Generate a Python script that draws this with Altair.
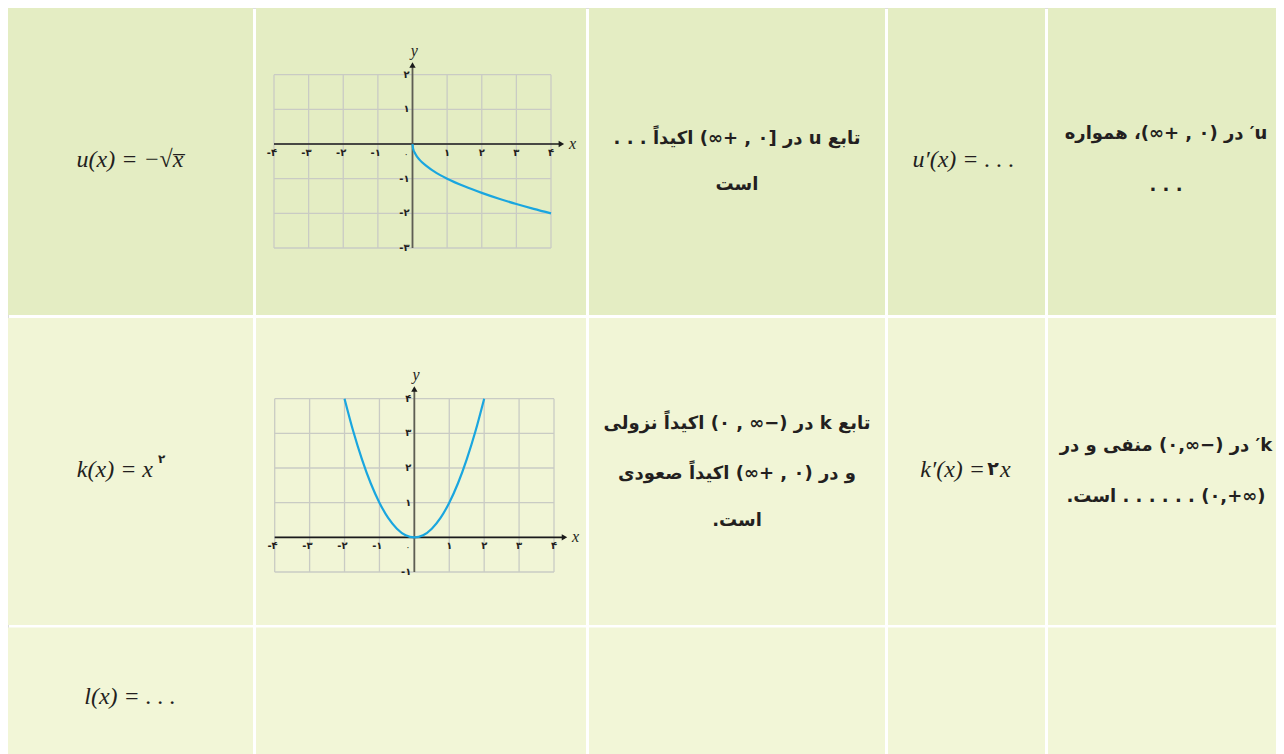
import altair as alt
import pandas as pd

# ---------------- data ----------------
# curve readings from the pictures
u_x = [0, 0.02, 0.08, 0.2, 0.4, 0.7, 1, 1.5, 2, 2.5, 3, 3.5, 4]
u_y = [0, -0.14, -0.28, -0.45, -0.63, -0.84, -1, -1.22, -1.41, -1.58, -1.73, -1.87, -2]
k_x = [-2, -1.75, -1.5, -1.25, -1, -0.75, -0.5, -0.25, 0, 0.25, 0.5, 0.75, 1, 1.25, 1.5, 1.75, 2]
k_y = [4, 3.06, 2.25, 1.56, 1, 0.56, 0.25, 0.06, 0, 0.06, 0.25, 0.56, 1, 1.56, 2.25, 3.06, 4]

fa = {-4: "-۴", -3: "-۳", -2: "-۲", -1: "-۱", 0: "۰", 1: "۱", 2: "۲", 3: "۳", 4: "۴"}
p1_xticks = [-4, -3, -2, -1, 0, 1, 2, 3, 4]
p1_yticks = [-3, -2, -1, 0, 1, 2]
p2_xticks = [-4, -3, -2, -1, 0, 1, 2, 3, 4]
p2_yticks = [-1, 0, 1, 2, 3, 4]

RLE, LRE, PDF = "\u202b", "\u202a", "\u202c"

# cell texts
r1c1 = "u(x) = −√x̅"
r1c3 = ["تابع u در [۰ , +∞) اکیداً . . .", "است"]
r1c4 = "u′(x) = . . ."
r1c5 = ["u′ در (۰ , +∞)، همواره", ". . ."]
r2c1 = "k(x) = x"
r2c1_sup = "۲"
r2c3 = ["تابع k در (−∞ , ۰) اکیداً نزولی", "و در (۰ , +∞) اکیداً صعودی", "است."]
r2c4 = ["k′(x) =", "۲", "x"]
r2c5 = ["k′ در (−∞,۰) منفی و در", LRE + "(۰,+∞)" + PDF + " . . . . . . است."]
r3c1 = "l(x) = . . ."

# ---------------- layout ----------------
W, H = 1268, 746
OFF = 8
col_left = [7, 256, 589, 888, 1048]
col_right = [253, 586, 885, 1045, 1284]
row_top = [8, 318, 627.5]
row_bottom = [315, 625, 754]
row_fill = ["#e4edc3", "#f1f5d6", "#f2f6d7"]

GRID = "#c9cbc4"
BLUE = "#1aa6df"
INK = "#231f20"


def sc(dom, rng):
    return alt.Scale(domain=dom, range=rng, nice=False, zero=False)


PX = sc([0, W], [0, W])
PY = sc([0, H], [0, H])

cx = [(l + r) / 2 - OFF for l, r in zip(col_left, col_right)]

cells = pd.DataFrame([
    {"x": col_left[c] - OFF, "x2": min(col_right[c] - OFF, W),
     "y": row_top[r] - OFF, "y2": row_bottom[r] - OFF, "f": row_fill[r]}
    for r in range(3) for c in range(5)
])

layers = []
layers.append(
    alt.Chart(cells).mark_rect(strokeWidth=0).encode(
        x=alt.X("x:Q", scale=PX, axis=None), x2="x2:Q",
        y=alt.Y("y:Q", scale=PY, axis=None), y2="y2:Q",
        color=alt.Color("f:N", scale=None),
    )
)


def text_layer(rows, **mk):
    df = pd.DataFrame(rows, columns=["x", "y", "t"])
    return alt.Chart(df).mark_text(color=INK, baseline="middle", **mk).encode(
        x=alt.X("x:Q", scale=PX, axis=None),
        y=alt.Y("y:Q", scale=PY, axis=None),
        text="t:N",
    )


math_rows = [
    (cx[0], 152, r1c1),
    (cx[3] - 3, 152, r1c4),
    (cx[0], 689, r3c1),
]
layers.append(text_layer(math_rows, font="Liberation Serif", fontStyle="italic",
                         fontSize=24, align="center"))
layers.append(text_layer([(145, 462, r2c1), (977, 462, r2c4[0])], font="Liberation Serif",
                         fontStyle="italic", fontSize=24, align="right"))
layers.append(text_layer([(992, 462, r2c4[2])], font="Liberation Serif",
                         fontStyle="italic", fontSize=24, align="left"))
layers.append(text_layer([(985, 461, r2c4[1])], font="DejaVu Sans", fontWeight="bold",
                         fontSize=19, align="center"))
layers.append(text_layer([(150, 451, r2c1_sup)], font="DejaVu Sans", fontWeight="bold",
                         fontSize=12, align="left"))

fa_rows = [
    (cx[2], 131, r1c3[0]), (cx[2], 177, r1c3[1]),
    (cx[4], 126, r1c5[0]), (cx[4], 178, r1c5[1]),
    (cx[2], 416, r2c3[0]), (cx[2], 466, r2c3[1]), (cx[2], 513, r2c3[2]),
    (cx[4], 438, r2c5[0]), (cx[4], 489, r2c5[1]),
]
fa_rows = [(x, y, RLE + t + PDF) for x, y, t in fa_rows]
layers.append(text_layer(fa_rows, font="DejaVu Sans", fontWeight="bold",
                         fontSize=18, align="center"))


def plot_layers(xs, ys, xticks, yticks, cx_, cy_):
    xmin, xmax = min(xticks), max(xticks)
    ymin, ymax = min(yticks), max(yticks)
    X = lambda f: alt.X(f, scale=xs, axis=None)
    Y = lambda f: alt.Y(f, scale=ys, axis=None)
    out = []
    gv = pd.DataFrame({"x": xticks, "y": [ymin] * len(xticks), "y2": [ymax] * len(xticks)})
    gh = pd.DataFrame({"y": yticks, "x": [xmin] * len(yticks), "x2": [xmax] * len(yticks)})
    out.append(alt.Chart(gv).mark_rule(color=GRID, strokeWidth=1.3).encode(
        x=X("x:Q"), y=Y("y:Q"), y2="y2:Q"))
    out.append(alt.Chart(gh).mark_rule(color=GRID, strokeWidth=1.3).encode(
        y=Y("y:Q"), x=X("x:Q"), x2="x2:Q"))
    # axes
    xa = pd.DataFrame({"x": [xmin], "x2": [xmax + 0.3], "y": [0]})
    ya = pd.DataFrame({"y": [ymin], "y2": [ymax + 0.28], "x": [0]})
    out.append(alt.Chart(xa).mark_rule(color="#1a1a1a", strokeWidth=1.6).encode(
        x=X("x:Q"), x2="x2:Q", y=Y("y:Q")))
    out.append(alt.Chart(ya).mark_rule(color="#5e5e52", strokeWidth=1.8).encode(
        y=Y("y:Q"), y2="y2:Q", x=X("x:Q")))
    out.append(alt.Chart(pd.DataFrame({"x": [xmax + 0.3], "y": [0]})).mark_point(
        shape="triangle-right", filled=True, size=40, color="#1a1a1a", opacity=1).encode(
        x=X("x:Q"), y=Y("y:Q")))
    out.append(alt.Chart(pd.DataFrame({"x": [0], "y": [ymax + 0.28]})).mark_point(
        shape="triangle-up", filled=True, size=40, color="#1a1a1a", opacity=1).encode(
        x=X("x:Q"), y=Y("y:Q")))
    # axis names
    out.append(alt.Chart(pd.DataFrame({"x": [xmax + 0.62], "y": [0], "t": ["x"]})).mark_text(
        font="Liberation Serif", fontStyle="italic", fontSize=16, color=INK, baseline="middle").encode(
        x=X("x:Q"), y=Y("y:Q"), text="t:N"))
    out.append(alt.Chart(pd.DataFrame({"x": [0.05], "y": [ymax + 0.68], "t": ["y"]})).mark_text(
        font="Liberation Serif", fontStyle="italic", fontSize=16, color=INK, baseline="middle").encode(
        x=X("x:Q"), y=Y("y:Q"), text="t:N"))
    # tick labels
    neg = [v for v in xticks if v < 0]
    pos = [v for v in xticks if v > 0]
    out.append(alt.Chart(pd.DataFrame({"x": neg, "y": [0] * len(neg), "t": [fa[v] for v in neg]})).mark_text(
        font="DejaVu Sans", fontSize=10, fontWeight="bold", color=INK, baseline="top", align="right",
        dx=3, dy=4).encode(x=X("x:Q"), y=Y("y:Q"), text="t:N"))
    out.append(alt.Chart(pd.DataFrame({"x": pos, "y": [0] * len(pos), "t": [fa[v] for v in pos]})).mark_text(
        font="DejaVu Sans", fontSize=10, fontWeight="bold", color=INK, baseline="top", align="center",
        dy=4).encode(x=X("x:Q"), y=Y("y:Q"), text="t:N"))
    out.append(alt.Chart(pd.DataFrame({"x": [0], "y": [0], "t": [fa[0]]})).mark_text(
        font="DejaVu Sans", fontSize=9, color=INK, baseline="top", align="right", dx=-4, dy=6).encode(
        x=X("x:Q"), y=Y("y:Q"), text="t:N"))
    yl = [v for v in yticks if v != 0]
    out.append(alt.Chart(pd.DataFrame({"x": [0] * len(yl), "y": yl, "t": [fa[v] for v in yl]})).mark_text(
        font="DejaVu Sans", fontSize=10, fontWeight="bold", color=INK, baseline="middle", align="right",
        dx=-3).encode(x=X("x:Q"), y=Y("y:Q"), text="t:N"))
    out.append(alt.Chart(pd.DataFrame({"x": cx_, "y": cy_})).mark_line(
        color=BLUE, strokeWidth=2.2, interpolate="monotone").encode(
        x=X("x:Q"), y=Y("y:Q")))
    return out


layers += plot_layers(sc([-4, 4], [266, 543]), sc([-3, 2], [240, 66.7]),
                      p1_xticks, p1_yticks, u_x, u_y)
layers += plot_layers(sc([-4, 4], [266.7, 546]), sc([-1, 4], [564, 390.7]),
                      p2_xticks, p2_yticks, k_x, k_y)

chart = alt.layer(*layers).resolve_scale(x="independent", y="independent").properties(
    width=W, height=H, padding=0, autosize=alt.AutoSizeParams(type="none")
).configure_view(stroke=None).configure(background="white")

chart.save("out.html", embed_options={"renderer": "svg", "actions": False})
